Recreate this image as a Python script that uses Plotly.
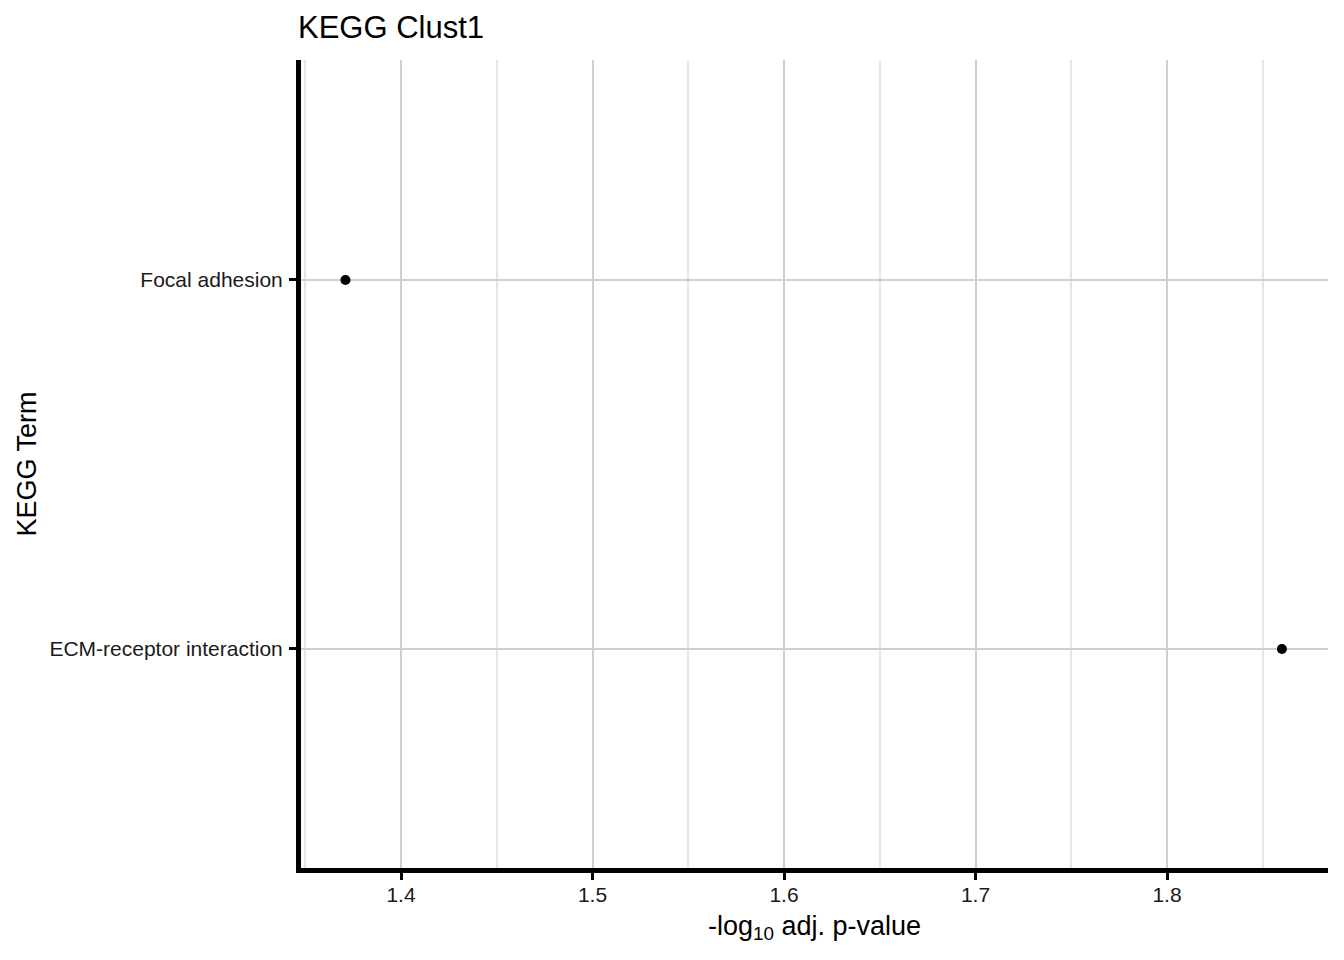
import plotly.graph_objects as go

terms = ["ECM-receptor interaction", "Focal adhesion"]
neg_log10_padj = [1.86, 1.371]
title_text = "KEGG Clust1"
x_tick_vals = [1.4, 1.5, 1.6, 1.7, 1.8]
x_tick_text = ["1.4", "1.5", "1.6", "1.7", "1.8"]

FONT = "Liberation Sans, Arial, sans-serif"

# The page body adds an 8px offset, so the figure is 8px smaller on each axis.
W, H = 1336, 952

fig = go.Figure()
fig.add_trace(go.Scatter(
    x=neg_log10_padj, y=terms, mode="markers",
    marker=dict(color="black", size=10),
    showlegend=False, hoverinfo="x+y",
))

fig.update_layout(
    width=W, height=H,
    margin=dict(l=293, r=16, t=52, b=92),
    paper_bgcolor="white", plot_bgcolor="white",
    font=dict(family=FONT, color="black"),
    title=dict(text=title_text, x=290/W, xanchor="left", xref="container",
               y=1-19/H, yanchor="middle", yref="container",
               font=dict(size=31, color="black", family=FONT)),
)
fig.update_xaxes(
    range=[1.34778, 1.88407],
    tickvals=x_tick_vals, ticktext=x_tick_text,
    tickfont=dict(size=21, color="#1a1a1a"),
    ticks="outside", ticklen=7, tickwidth=3, tickcolor="black",
    ticklabelstandoff=-3,
    showline=True, linewidth=5, linecolor="black",
    showgrid=True, gridcolor="#cfcfcf", gridwidth=2,
    minor=dict(tick0=1.35, dtick=0.1, showgrid=True, gridcolor="#e6e6e6", gridwidth=2, ticks=""),
    zeroline=False,
    title=dict(text="-log<sub>10</sub> adj. p-value", font=dict(size=27, color="black"), standoff=12),
)
fig.update_yaxes(
    type="category", categoryorder="array", categoryarray=terms,
    range=[-0.5935, 1.596],
    tickfont=dict(size=21, color="#1a1a1a"),
    ticks="outside", ticklen=7, tickwidth=3, tickcolor="black",
    ticklabelstandoff=2,
    showline=True, linewidth=5, linecolor="black",
    showgrid=True, gridcolor="#cfcfcf", gridwidth=2,
    zeroline=False,
    title=dict(text="KEGG Term", font=dict(size=27, color="black"), standoff=6),
)

fig.write_html("out.html")
